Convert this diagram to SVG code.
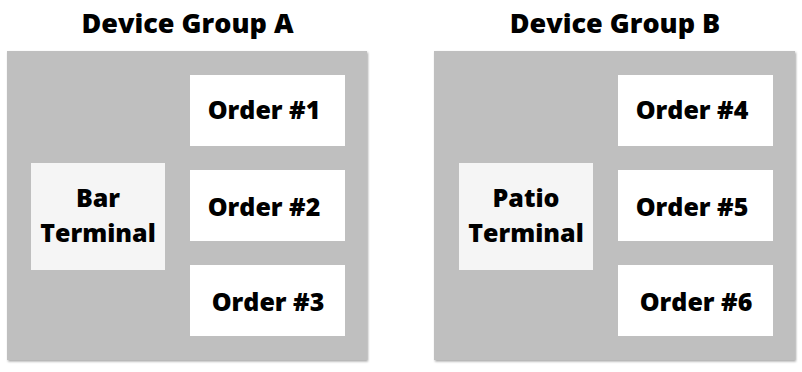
<svg xmlns="http://www.w3.org/2000/svg" width="802" height="372" viewBox="0 0 802 372">
<defs>
<filter id="sh" x="-5%" y="-5%" width="110%" height="110%">
<feDropShadow dx="1" dy="1.5" stdDeviation="1" flood-color="#000" flood-opacity="0.35"/>
</filter>
</defs>
<style>
.grp{fill:#bfbfbf;filter:url(#sh)}
.term{fill:#f5f5f5}
.ord{fill:#ffffff}
text{font-family:"Open Sans",Lato,"Liberation Sans",sans-serif;font-weight:800;fill:#000;text-anchor:middle}
.title{font-size:27px}
.lbl{font-size:25px}
</style>
<rect width="802" height="372" fill="#ffffff"/>
<g id="groupA">
<text class="title" x="187.5" y="33">Device Group A</text>
<rect class="grp" x="7" y="51" width="360" height="309"/>
</g>
<g id="groupB">
<text class="title" x="615" y="33">Device Group B</text>
<rect class="grp" x="434" y="51" width="361" height="309"/>
</g>
<g id="barTerminal">
<rect class="term" x="31" y="163" width="134" height="107"/>
<text class="lbl" x="98" y="207">Bar</text>
<text class="lbl" x="98" y="242">Terminal</text>
</g>
<g id="order1"><rect class="ord" x="190" y="75" width="155" height="71"/><text class="lbl" x="264" y="119">Order #1</text></g>
<g id="order2"><rect class="ord" x="190" y="170" width="155" height="71"/><text class="lbl" x="264" y="216">Order #2</text></g>
<g id="order3"><rect class="ord" x="190" y="265" width="155" height="71"/><text class="lbl" x="268" y="311">Order #3</text></g>
<g id="patioTerminal">
<rect class="term" x="459" y="163" width="134" height="107"/>
<text class="lbl" x="526" y="207">Patio</text>
<text class="lbl" x="526" y="242">Terminal</text>
</g>
<g id="order4"><rect class="ord" x="618" y="75" width="155" height="71"/><text class="lbl" x="692" y="119">Order #4</text></g>
<g id="order5"><rect class="ord" x="618" y="170" width="155" height="71"/><text class="lbl" x="692" y="216">Order #5</text></g>
<g id="order6"><rect class="ord" x="618" y="265" width="155" height="71"/><text class="lbl" x="696" y="311">Order #6</text></g>
<g id="connectors"></g>
</svg>
